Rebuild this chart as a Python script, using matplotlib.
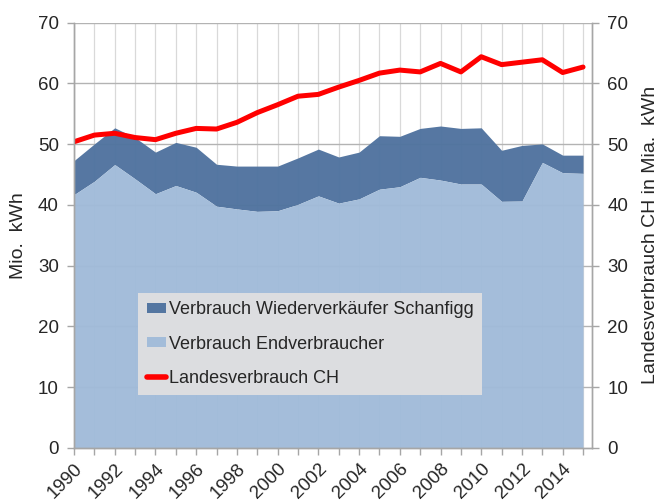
import matplotlib
matplotlib.use("Agg")
import matplotlib.pyplot as plt
import numpy as np

years = list(range(1990, 2016))
endverbraucher = [41.7, 43.9, 46.65, 44.3, 41.85, 43.2, 42.1, 39.8, 39.35, 38.95, 39.05, 40.1, 41.5,
                  40.3, 41.0, 42.6, 43.0, 44.55, 44.1, 43.45, 43.45, 40.6, 40.65, 47.0, 45.3, 45.2]
wiederverkaeufer = [5.6, 6.15, 6.05, 6.8, 6.85, 7.1, 7.4, 6.9, 7.05, 7.45, 7.35, 7.65, 7.7,
                    7.6, 7.7, 8.8, 8.3, 8.05, 8.9, 9.15, 9.25, 8.4, 9.15, 3.05, 2.9, 3.0]
landesverbrauch = [50.4, 51.5, 51.8, 51.1, 50.75, 51.8, 52.6, 52.5, 53.6, 55.2, 56.5, 57.9, 58.2,
                   59.4, 60.5, 61.7, 62.2, 61.9, 63.3, 61.9, 64.4, 63.1, 63.5, 63.9, 61.8, 62.7]
yticks = [0, 10, 20, 30, 40, 50, 60, 70]
xlabel_years = list(range(1990, 2015, 2))

plt.rcParams['font.family'] = ['Liberation Sans', 'DejaVu Sans']

dark = '#50739F'
light = '#A1BBD9'
red = '#FF0000'
txt = '#262626'
axc = '#A6A6A6'

fig = plt.figure(figsize=(6.61, 5.04), dpi=100)
ax = fig.add_axes([74/661, 1-448/504, (592-74)/661, (448-22.7)/504])

x = np.array(years)
e = np.array(endverbraucher)
w = np.array(wiederverkaeufer)
l = np.array(landesverbrauch)

ax.set_xlim(1990, 2015.44)
ax.set_ylim(0, 70)

# grid
for yr in years:
    ax.axvline(yr, color='#D9D9D9', lw=0.9, zorder=0)
for t in yticks[1:]:
    ax.axhline(t, color='#B3B3B3', lw=1.0, zorder=0)

h1 = ax.fill_between(x, e, e + w, color=dark, lw=0, zorder=2, alpha=0.97)
h2 = ax.fill_between(x, 0, e, color=light, lw=0, zorder=2, alpha=0.97)

ax2 = ax.twinx()
ax2.set_ylim(0, 70)
h3, = ax2.plot(x, l, color=red, lw=3.6, solid_capstyle='round', solid_joinstyle='round')

for a in (ax, ax2):
    for s in a.spines.values():
        s.set_color(axc)
        s.set_linewidth(1.0)
    a.spines['top'].set_visible(False)
    a.set_yticks(yticks)
    a.tick_params(axis='y', colors=axc, labelcolor=txt, labelsize=13.5, length=5, width=1.0, pad=6)

ax.set_xticks(years)
ax.set_xticklabels([str(y) if y in xlabel_years else '' for y in years],
                   rotation=45, ha='right', va='top', rotation_mode='anchor')
ax.tick_params(axis='x', colors=axc, labelcolor=txt, labelsize=13.5, length=5, width=1.0, pad=4)

ax.set_ylabel('Mio.  kWh', fontsize=14, color=txt, labelpad=8)
ax2.set_ylabel('Landesverbrauch CH in Mia.  kWh', fontsize=14, color=txt, labelpad=10)

leg = ax2.legend([h1, h2, h3],
                 ['Verbrauch Wiederverkäufer Schanfigg', 'Verbrauch Endverbraucher', 'Landesverbrauch CH'],
                 loc='upper left', bbox_to_anchor=(0.1236, 0.3645), borderaxespad=0,
                 fontsize=13, frameon=True, fancybox=False, facecolor='#DCDDE0', edgecolor='none',
                 framealpha=1.0, handlelength=1.1, handleheight=0.5, handletextpad=0.15,
                 labelspacing=0.95, borderpad=0.47)
for t in leg.get_texts():
    t.set_color(txt)
for ln in leg.get_lines():
    ln.set_linewidth(4)
fig.savefig('out.png', dpi=100)
